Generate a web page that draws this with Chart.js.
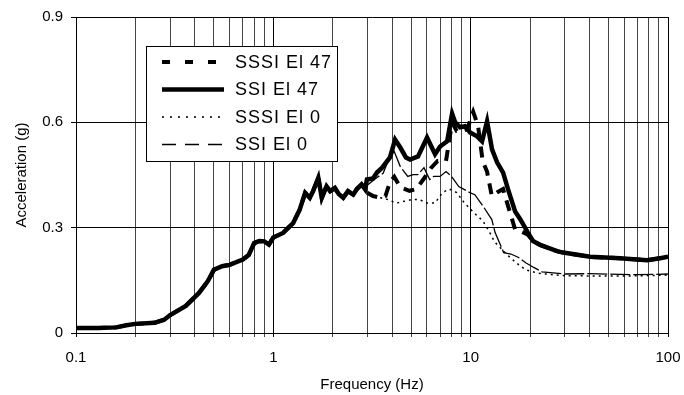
<!DOCTYPE html>
<html>
<head>
<meta charset="utf-8">
<script src="https://cdn.jsdelivr.net/npm/chart.js@4.4.1/dist/chart.umd.min.js"></script>
<style>
  html, body { margin: 0; padding: 0; background: #fff; }
  #wrap { width: 684px; height: 395px; }
</style>
</head>
<body>
<div id="wrap"><canvas id="chart" width="684" height="395"></canvas></div>
<script>
// Below ~3 Hz all four spectra sit on top of each other
const sharedHz = [0.1, 0.13, 0.16, 0.18, 0.2, 0.25, 0.28, 0.3, 0.36, 0.42, 0.465, 0.5, 0.55, 0.6, 0.7, 0.75, 0.8, 0.85, 0.9, 0.95, 1.0, 1.12, 1.26, 1.36, 1.45, 1.53, 1.59, 1.69, 1.76, 1.86, 1.94, 2.05, 2.15, 2.26, 2.39, 2.54, 2.65, 2.8, 2.92];
const sharedG = [0.014, 0.014, 0.016, 0.022, 0.026, 0.029, 0.038, 0.051, 0.077, 0.114, 0.147, 0.18, 0.19, 0.194, 0.209, 0.222, 0.256, 0.262, 0.261, 0.252, 0.272, 0.285, 0.313, 0.351, 0.399, 0.385, 0.404, 0.442, 0.385, 0.418, 0.404, 0.413, 0.395, 0.385, 0.404, 0.394, 0.41, 0.423, 0.409];

// SSSI El 47 (thick dashed)
const sssiEl47Hz = [2.98, 3.2, 3.5, 3.7, 3.9, 4.1, 4.4, 4.9, 5.3, 5.8, 6.3, 6.8, 7.5, 8.05, 8.5, 9.0, 9.6, 10.3, 10.9, 11.5, 12.1, 12.8, 13.6, 14.6, 15.5, 16.8, 18, 19.5, 20.7, 22.5, 27.4, 29.4, 40.3, 57.2, 78.3, 91.2, 100];
const sssiEl47G = [0.40, 0.39, 0.385, 0.39, 0.43, 0.445, 0.415, 0.405, 0.41, 0.44, 0.47, 0.49, 0.49, 0.60, 0.575, 0.575, 0.58, 0.63, 0.59, 0.49, 0.46, 0.39, 0.40, 0.41, 0.36, 0.295, 0.29, 0.28, 0.262, 0.251, 0.233, 0.229, 0.217, 0.213, 0.207, 0.213, 0.217];

// SSI El 47 (thick solid)
const ssiEl47Hz = [2.98, 3.2, 3.35, 3.56, 3.9, 4.14, 4.39, 4.7, 4.93, 5.41, 6.01, 6.6, 7.0, 7.6, 8.05, 8.34, 8.84, 9.37, 9.93, 10.78, 11.42, 12.11, 12.83, 13.61, 14.6, 15.47, 16.8, 17.8, 19.5, 20.7, 22.5, 27.4, 29.4, 40.3, 57.2, 78.3, 91.2, 100];
const ssiEl47G = [0.437, 0.44, 0.457, 0.471, 0.50, 0.551, 0.529, 0.50, 0.494, 0.503, 0.557, 0.509, 0.531, 0.546, 0.625, 0.60, 0.586, 0.589, 0.571, 0.56, 0.546, 0.603, 0.523, 0.486, 0.457, 0.409, 0.346, 0.325, 0.286, 0.262, 0.251, 0.233, 0.229, 0.217, 0.213, 0.207, 0.213, 0.217];

// SSSI El 0 (thin dotted)
const sssiEl0Hz = [2.98, 3.2, 3.5, 3.8, 4.2, 4.6, 5.0, 5.5, 6.0, 6.6, 7.2, 7.8, 8.5, 9.3, 10.5, 11.5, 12.4, 13.2, 14.3, 15.5, 17, 19, 22, 30, 60, 100];
const sssiEl0G = [0.40, 0.39, 0.385, 0.38, 0.37, 0.375, 0.38, 0.38, 0.37, 0.37, 0.40, 0.41, 0.40, 0.37, 0.34, 0.32, 0.29, 0.26, 0.24, 0.22, 0.20, 0.18, 0.17, 0.163, 0.162, 0.165];

// SSI El 0 (thin long dash)
const ssiEl0Hz = [2.98, 3.3, 3.6, 3.9, 4.1, 4.4, 4.8, 5.1, 5.4, 5.8, 6.2, 6.5, 7.0, 7.5, 8.0, 8.7, 9.9, 10.5, 11.6, 12.8, 13.3, 14.7, 16, 17.5, 19, 21, 23, 30, 40, 70, 100];
const ssiEl0G = [0.42, 0.44, 0.455, 0.503, 0.517, 0.474, 0.446, 0.451, 0.451, 0.471, 0.437, 0.446, 0.446, 0.46, 0.446, 0.417, 0.40, 0.394, 0.36, 0.323, 0.286, 0.229, 0.225, 0.215, 0.20, 0.186, 0.174, 0.168, 0.169, 0.166, 0.168];

const xTicks = [0.1, 0.2, 0.3, 0.4, 0.5, 0.6, 0.7, 0.8, 0.9, 1, 2, 3, 4, 5, 6, 7, 8, 9, 10, 20, 30, 40, 50, 60, 70, 80, 90, 100];
const xLabels = [0.1, 1, 10, 100];

const toPoints = (hz, g) => sharedHz.map((x, i) => ({ x, y: sharedG[i] }))
  .concat(hz.map((x, i) => ({ x, y: g[i] })));

const series = [
  { label: 'SSSI El 47', data: toPoints(sssiEl47Hz, sssiEl47G), width: 4, dash: [11, 8], legendDash: [8, 15] },
  { label: 'SSI El 47', data: toPoints(ssiEl47Hz, ssiEl47G), width: 4.5, dash: [], legendDash: [] },
  { label: 'SSSI El 0', data: toPoints(sssiEl0Hz, sssiEl0G), width: 1.5, dash: [2, 4], legendDash: [2, 6] },
  { label: 'SSI El 0', data: toPoints(ssiEl0Hz, ssiEl0G), width: 1.3, dash: [20, 3], legendDash: [14, 9] },
];

const FONT = '"Liberation Sans", Arial, sans-serif';

// legend box sits inside the plot, upper left
const boxLegend = {
  id: 'boxLegend',
  afterDraw(chart) {
    const { ctx } = chart;
    const x0 = 146;
    const y0 = 46;
    const w = 191;
    const h = 115;
    ctx.save();
    ctx.fillStyle = '#fff';
    ctx.fillRect(x0, y0, w, h);
    ctx.strokeStyle = '#000';
    ctx.lineWidth = 1;
    ctx.strokeRect(x0 + 0.5, y0 + 0.5, w, h);
    ctx.font = `18px ${FONT}`;
    ctx.letterSpacing = '1px';
    ctx.textBaseline = 'middle';
    ctx.fillStyle = '#000';
    series.forEach((s, i) => {
      const y = 62 + i * 27.5;
      ctx.beginPath();
      ctx.setLineDash(s.legendDash);
      ctx.lineWidth = s.width;
      ctx.strokeStyle = '#000';
      ctx.moveTo(162, y);
      ctx.lineTo(224, y);
      ctx.stroke();
      ctx.setLineDash([]);
      ctx.fillText(s.label, 235, y + 1);
    });
    ctx.restore();
  },
};

new Chart(document.getElementById('chart'), {
  type: 'line',
  data: {
    datasets: series.map((s) => ({
      label: s.label,
      data: s.data,
      borderColor: '#000',
      borderWidth: s.width,
      borderDash: s.dash,
      pointRadius: 0,
      tension: 0,
      fill: false,
    })),
  },
  options: {
    responsive: false,
    animation: false,
    devicePixelRatio: 1,
    layout: { padding: { left: 0, right: 16, top: 17, bottom: 0 } },
    plugins: { legend: { display: false }, tooltip: { enabled: false } },
    scales: {
      x: {
        type: 'logarithmic',
        min: 0.1,
        max: 100,
        afterBuildTicks: (scale) => { scale.ticks = xTicks.map((value) => ({ value })); },
        afterFit: (scale) => {
          scale.height = 62;
          // edge labels fit in the layout padding already
          scale.paddingLeft = 0;
          scale.paddingRight = 0;
        },
        grid: {
          color: (c) => (xLabels.includes(c.tick && c.tick.value) ? '#000' : '#444'),
          lineWidth: 1,
          tickLength: 4,
        },
        border: { color: '#000', width: 1 },
        ticks: {
          autoSkip: false,
          maxRotation: 0,
          padding: 12,
          color: '#000',
          font: { family: FONT, size: 15 },
          callback: (v) => (xLabels.includes(v) ? String(v) : ''),
        },
        title: {
          display: true,
          text: 'Frequency (Hz)',
          color: '#000',
          font: { family: FONT, size: 15 },
          padding: { top: 0, bottom: 1 },
        },
      },
      y: {
        min: 0,
        max: 0.9,
        afterFit: (scale) => {
          scale.width = 76;
          scale.paddingTop = 0;
          scale.paddingBottom = 0;
        },
        grid: { color: '#000', lineWidth: 1, tickLength: 5 },
        border: { color: '#000', width: 1 },
        ticks: {
          stepSize: 0.3,
          padding: 8,
          color: '#000',
          font: { family: FONT, size: 15 },
          callback: (v) => (v === 0 ? '0' : v.toFixed(1)),
        },
        title: {
          display: true,
          text: 'Acceleration (g)',
          color: '#000',
          font: { family: FONT, size: 15 },
          padding: { top: 13, bottom: 0 },
        },
      },
    },
  },
  plugins: [boxLegend],
});
</script>
</body>
</html>
